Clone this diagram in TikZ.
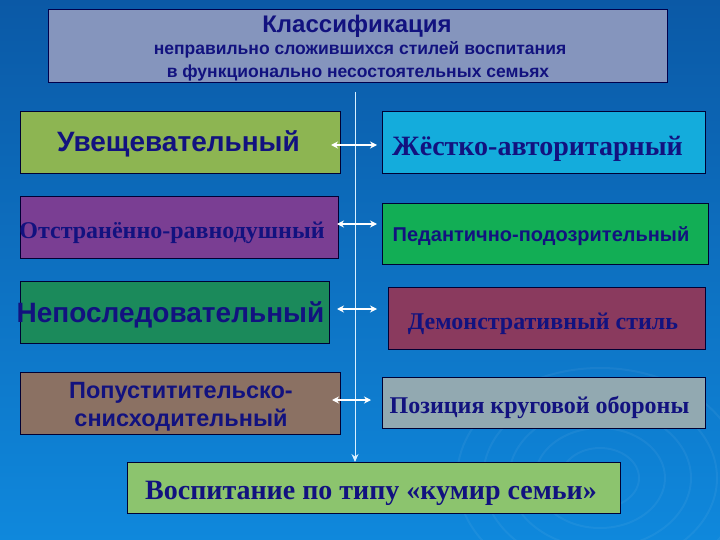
\documentclass[tikz,border=0pt]{standalone}
\usepackage{fontspec}
\setmainfont{Liberation Serif}
\setsansfont{Liberation Sans}
\usetikzlibrary{arrows.meta}
\definecolor{bgtop}{HTML}{0B59A6}
\definecolor{bgbot}{HTML}{0F88DC}
\definecolor{txt}{HTML}{12127F}
\definecolor{ctitle}{HTML}{8595BD}
\definecolor{cgreen}{HTML}{8DB552}
\definecolor{cpurple}{HTML}{7A3E93}
\definecolor{cdkgreen}{HTML}{1B8A5B}
\definecolor{cbrown}{HTML}{8B7163}
\definecolor{ccyan}{HTML}{14ACDC}
\definecolor{cbrgreen}{HTML}{12AE55}
\definecolor{cmaroon}{HTML}{8A3A5E}
\definecolor{cgrey}{HTML}{92A9B1}
\definecolor{cbottom}{HTML}{8CC46E}
\definecolor{spine}{HTML}{D8F0FF}
\newcommand{\dn}[2]{\raisebox{-#1}[\height][\depth]{#2}}
\tikzset{
  box/.style={draw=black!80!blue, line width=0.8pt, inner sep=0pt, text=txt, align=center},
  sansbig/.style={font=\sffamily\bfseries\fontsize{#1}{#1}\selectfont},
  serifbig/.style={font=\rmfamily\bfseries\fontsize{#1}{#1}\selectfont},
  link/.style={draw=white, line width=1.5pt, {Stealth[length=7pt,width=7pt]}-{Stealth[length=7pt,width=7pt]}},
  spineline/.style={draw=spine, line width=1pt},
  ripple/.style={draw=white, opacity=0.05, line width=2pt}
}
\begin{document}
\begin{tikzpicture}[x=1pt,y=-1pt]
\shade[top color=bgtop, bottom color=bgbot] (0,0) rectangle (720,540);
\useasboundingbox (0,0) rectangle (720,540);
% faint ripples
\foreach \r in {30,50,70,90,110}{
  \draw[ripple] (600,478) ellipse ({\r*1.3} and \r);
}
% title
\node[box, fill=ctitle, draw=black!70!blue, minimum width=619pt, minimum height=73pt] (title) at (357.5,45.5) {};
\node[sansbig=24, text=txt] (t1) at (357,26) {Классификация};
\node[sansbig=17.5, text=txt] (t2) at (360,50) {неправильно сложившихся стилей воспитания};
\node[sansbig=17.5, text=txt] (t3) at (358,73) {в функционально несостоятельных семьях};
% left column
\node[box, fill=cgreen, minimum width=320pt, minimum height=62pt, sansbig=28] (L1) at (180,142) {\dn{2pt}{\hspace*{-3pt}Увещевательный}};
\node[box, fill=cpurple, minimum width=318pt, minimum height=62pt, serifbig=24] (L2) at (179,227) {\dn{6pt}{\hspace*{-14pt}Отстранённо-равнодушный}};
\node[box, fill=cdkgreen, minimum width=309pt, minimum height=62pt, sansbig=28] (L3) at (174.5,312) {\dn{3pt}{\hspace*{-8pt}Непоследовательный}};
\node[box, fill=cbrown, minimum width=320pt, minimum height=62pt, sansbig=23.5] (L4) at (180,403) {\dn{4pt}{\hspace*{2pt}Попуститительско-}\\[5pt]\dn{4pt}{\hspace*{2pt}снисходительный}};
% right column
\node[box, fill=ccyan, minimum width=323pt, minimum height=62pt, serifbig=28] (R1) at (543.5,142) {\dn{7pt}{\hspace*{-12pt}Жёстко-авторитарный}};
\node[box, fill=cbrgreen, minimum width=326pt, minimum height=61pt, sansbig=20] (R2) at (545,233.5) {\dn{3pt}{\hspace*{-8pt}Педантично-подозрительный}};
\node[box, fill=cmaroon, minimum width=317pt, minimum height=62pt, serifbig=24] (R3) at (546.5,318) {\dn{6pt}{\hspace*{-7pt}Демонстративный стиль}};
\node[box, fill=cgrey, minimum width=323pt, minimum height=51pt, serifbig=24] (R4) at (543.5,402.5) {\dn{5pt}{\hspace*{-8pt}Позиция круговой обороны}};
% bottom
\node[box, fill=cbottom, minimum width=493pt, minimum height=51pt, serifbig=28] (B) at (373.5,487.5) {\dn{6pt}{\hspace*{-5pt}Воспитание по типу «кумир семьи»}};
% spine
\coordinate (top) at (355,92);
\coordinate (bot) at (355,462);
\draw[spineline, -{Stealth[length=8pt,width=7pt]}] (top) -- (bot);
% links
\coordinate (a1) at (331,145); \coordinate (b1) at (377,145);
\coordinate (a2) at (337,224); \coordinate (b2) at (377,224);
\coordinate (a3) at (337,309); \coordinate (b3) at (377,309);
\coordinate (a4) at (332,400); \coordinate (b4) at (371,400);
\draw[link] (a1) -- (b1);
\draw[link] (a2) -- (b2);
\draw[link] (a3) -- (b3);
\draw[link] (a4) -- (b4);
\end{tikzpicture}
\end{document}
